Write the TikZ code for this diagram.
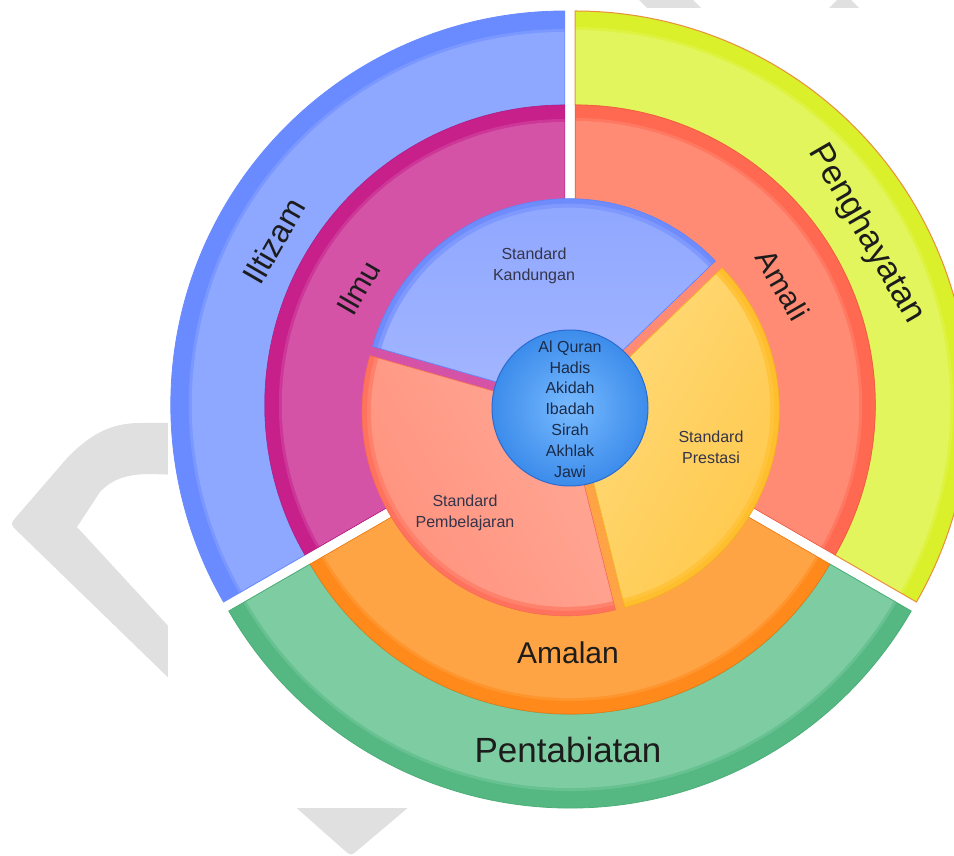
\documentclass[tikz,border=0pt]{standalone}
\usepackage{fontspec}
\setmainfont{Liberation Sans}
\usetikzlibrary{calc}
% colours
\definecolor{wm}{HTML}{E0E0E0}
\definecolor{iltD}{HTML}{6A8BFF}\definecolor{iltL}{HTML}{8EA8FF}
\definecolor{penD}{HTML}{D9F02A}\definecolor{penL}{HTML}{E3F55C}\definecolor{penB}{HTML}{E8903A}
\definecolor{pabD}{HTML}{55B883}\definecolor{pabL}{HTML}{7ECCA2}\definecolor{pabB}{HTML}{4CAE78}
\definecolor{ilmD}{HTML}{C7208B}\definecolor{ilmL}{HTML}{D453A7}\definecolor{ilmB}{HTML}{B51E80}
\definecolor{amiD}{HTML}{FF6951}\definecolor{amiL}{HTML}{FF8B75}\definecolor{amiB}{HTML}{F05A40}
\definecolor{amnD}{HTML}{FF891B}\definecolor{amnL}{HTML}{FFA444}\definecolor{amnB}{HTML}{EC7A12}
\definecolor{kanD}{HTML}{6F8CFD}\definecolor{kanL}{HTML}{8EA6FF}\definecolor{kanLL}{HTML}{A3B6FF}\definecolor{kanB}{HTML}{6282F5}
\definecolor{pemD}{HTML}{FF735E}\definecolor{pemL}{HTML}{FF917C}\definecolor{pemLL}{HTML}{FFA896}\definecolor{pemB}{HTML}{F66A55}
\definecolor{preD}{HTML}{FFBE2E}\definecolor{preL}{HTML}{FFC84A}\definecolor{preLL}{HTML}{FFDA7A}\definecolor{preB}{HTML}{F2B020}
\definecolor{cenL}{HTML}{78BAFF}\definecolor{cenD}{HTML}{3C8CEB}\definecolor{cenB}{HTML}{2C6CD2}
\definecolor{ink}{HTML}{1C1C1C}\definecolor{stdink}{HTML}{34344A}\definecolor{cenink}{HTML}{1B2B48}
% annular sector: cx cy start end rin rout options
\newcommand{\annseg}[7]{%
  \path[#7] ($(#1,#2)+(#3:#6)$) arc[start angle=#3,end angle=#4,radius=#6]
    -- ($(#1,#2)+(#4:#5)$) arc[start angle=#4,end angle=#3,radius=#5] -- cycle;}
% banded segment: cx cy start end rin rout band dark light border borderwidth
\newcommand{\bandseg}[9]{%
  \annseg{#1}{#2}{#3}{#4}{#5}{#6}{fill=#8}%
  \annseg{#1}{#2}{#3}{#4}{#5}{#6-#7+3}{fill=#8!55!#9}%
  \annseg{#1}{#2}{#3}{#4}{#5}{#6-#7}{fill=#9}}
\begin{document}
\begin{tikzpicture}[x=1pt,y=1pt,
  lab/.style={font=\fontsize{#1}{#1}\selectfont, text=ink, inner sep=0pt},
  stdlab/.style={font=\fontsize{16}{21}\selectfont, text=stdink, align=center, inner sep=0pt},
  cenlab/.style={font=\fontsize{16}{20.8}\selectfont, text=cenink, align=center, inner sep=0pt}]
\useasboundingbox (0,0) rectangle (954,855);
% ---- faint watermark fragments ----
\fill[wm] (182,432) -- (140,432) .. controls (110,432) and (90,420) .. (68,398)
  -- (17.9,340) .. controls (10,331) .. (18.6,322.6) -- (182,164)
  -- (182,214) -- (77,328) -- (100,363) .. controls (112,376) and (128,381) .. (150,381)
  -- (182,380) -- cycle;
\fill[wm] (637,857) -- (691,857) -- (713,835) -- (659,835) -- cycle;
\fill[wm] (844,862) -- (872,834) -- (816,834) -- cycle;
\fill[wm] (282,60) -- (423,60) -- (358,5) .. controls (351,-1) .. (344,5) -- cycle;
\fill[white] (168,47) rectangle (990,847);
% ---- outer ring ----
\bandseg{564.8}{450}{90}{210}{300}{394}{21}{iltD}{iltL}
\annseg{564.8}{450}{90}{210}{300}{394}{draw=iltD, line width=0.8pt}
\bandseg{575.2}{450}{-30}{90}{300}{394}{19}{penD}{penL}
\annseg{575.2}{450}{-30}{90}{300}{394}{draw=penB, line width=1pt}
\bandseg{570}{441}{210}{330}{300}{394}{20}{pabD}{pabL}
\annseg{570}{441}{210}{330}{300}{394}{draw=pabB, line width=0.8pt}
% ---- middle ring ----
\bandseg{564.8}{450}{90}{210}{1}{300}{17}{ilmD}{ilmL}
\annseg{564.8}{450}{90}{210}{1}{300}{draw=ilmB, line width=0.6pt}
\bandseg{575.2}{450}{-30}{90}{1}{300}{16}{amiD}{amiL}
\annseg{575.2}{450}{-30}{90}{1}{300}{draw=amiB, line width=0.6pt}
\bandseg{570}{441}{210}{330}{1}{300}{16}{amnD}{amnL}
\annseg{570}{441}{210}{330}{1}{300}{draw=amnB, line width=0.6pt}
% ---- inner segments ----
\annseg{568.67}{452.34}{44}{164}{1}{204}{fill=kanD}
\annseg{568.67}{452.34}{44}{164}{1}{199}{fill=kanD!50!kanL}
\annseg{568.67}{452.34}{44}{164}{1}{195}{top color=kanL, bottom color=kanLL}
\annseg{568.67}{452.34}{44}{164}{1}{204}{draw=kanB, line width=0.6pt}
\annseg{566.04}{443.18}{164}{284}{1}{204}{fill=pemD}
\annseg{566.04}{443.18}{164}{284}{1}{199}{fill=pemD!50!pemL}
\annseg{566.04}{443.18}{164}{284}{1}{195}{left color=pemL, right color=pemLL, shading angle=120}
\annseg{566.04}{443.18}{164}{284}{1}{204}{draw=pemB, line width=0.6pt}
\annseg{575.29}{445.48}{284}{404}{1}{204}{fill=preD}
\annseg{575.29}{445.48}{284}{404}{1}{199}{fill=preD!50!preL}
\annseg{575.29}{445.48}{284}{404}{1}{195}{left color=preLL, right color=preL, shading angle=60}
\annseg{575.29}{445.48}{284}{404}{1}{204}{draw=preB, line width=0.6pt}
% ---- centre ----
\shade[inner color=cenL, outer color=cenD] (570,447) circle[radius=78];
\draw[cenB, line width=1pt] (570,447) circle[radius=78];
% ---- labels ----
\node[lab=32, rotate=60] (iltizam) at (274,614) {Iltizam};
\node[lab=30, rotate=60] (ilmu) at (358,567) {Ilmu};
\node[lab=34, rotate=-60] (penghayatan) at (866,621) {Penghayatan};
\node[lab=30, rotate=-60] (amali) at (783,570) {Amali};
\node[lab=30] (amalan) at (568,202) {Amalan};
\node[lab=35] (pentabiatan) at (568,105) {Pentabiatan};
\node[stdlab] (kandungan) at (534,589) {Standard\\Kandungan};
\node[stdlab] (pembelajaran) at (465,342) {Standard\\Pembelajaran};
\node[stdlab] (prestasi) at (711,408) {Standard\\Prestasi};
\node[cenlab] (core) at (570,446) {Al Quran\\Hadis\\Akidah\\Ibadah\\Sirah\\Akhlak\\Jawi};
\end{tikzpicture}
\end{document}
